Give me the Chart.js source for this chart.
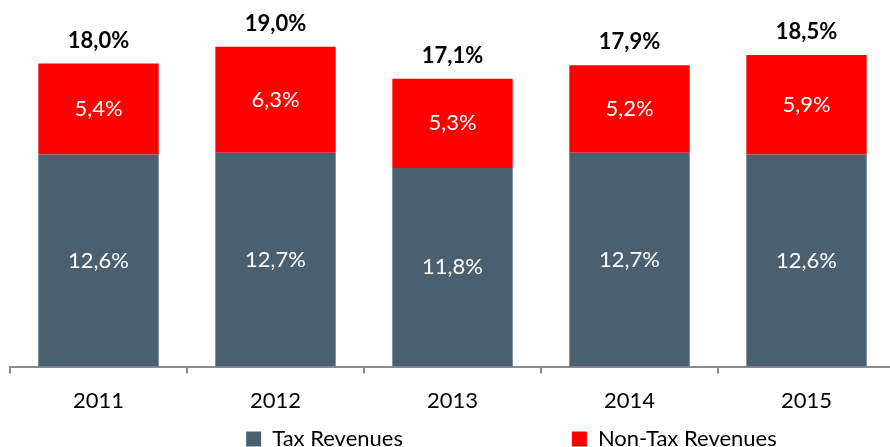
<!DOCTYPE html>
<html>
<head>
<meta charset="utf-8">
<script src="https://cdn.jsdelivr.net/npm/chart.js@4/dist/chart.umd.min.js"></script>
<style>
  html, body { margin: 0; padding: 0; background: #fff; overflow: hidden; }
  #wrap { width: 895px; height: 447px; overflow: hidden; }
</style>
</head>
<body>
<div id="wrap"><canvas id="revChart" width="895" height="457"></canvas></div>
<script>
// data (% of GDP)
var years = ['2011', '2012', '2013', '2014', '2015'];
var taxRevenues = [12.6, 12.7, 11.8, 12.7, 12.6];
var nonTaxRevenues = [5.4, 6.3, 5.3, 5.2, 5.9];
var totals = [18.0, 19.0, 17.1, 17.9, 18.5];
var seriesNames = ['Tax Revenues', 'Non-Tax Revenues'];

var FONT = 'Lato, "Open Sans", sans-serif';

function fmt(v) {
  return v.toFixed(1).replace('.', ',') + '%';
}

// trailing blanks push the legend items to where they sit in the original
function pad(s, n) {
  return s + new Array(n + 1).join(' ');
}

// writes the values inside the bars and the totals on top
var valueLabels = {
  id: 'valueLabels',
  afterDatasetsDraw: function(chart) {
    var ctx = chart.ctx;
    ctx.save();
    ctx.textAlign = 'center';
    ctx.textBaseline = 'middle';
    chart.data.datasets.forEach(function(ds, i) {
      var meta = chart.getDatasetMeta(i);
      meta.data.forEach(function(bar, j) {
        var mid = (bar.y + bar.base) / 2;
        ctx.fillStyle = '#ffffff';
        ctx.font = '22px ' + FONT;
        ctx.fillText(fmt(ds.data[j]), bar.x, mid);
      });
    });
    var top = chart.getDatasetMeta(1);
    top.data.forEach(function(bar, j) {
      ctx.fillStyle = '#000000';
      ctx.font = 'bold 22px ' + FONT;
      ctx.fillText(fmt(totals[j]), bar.x, bar.y - 23);
    });
    ctx.restore();
  }
};

var ctx = document.getElementById('revChart').getContext('2d');
var revChart = new Chart(ctx, {
  type: 'bar',
  data: {
    labels: years,
    datasets: [{
      label: pad(seriesNames[0], 30),
      data: taxRevenues,
      backgroundColor: '#4a6070',
      barPercentage: 0.68,
      categoryPercentage: 1.0
    }, {
      label: pad(seriesNames[1], 21),
      data: nonTaxRevenues,
      backgroundColor: '#ff0000',
      barPercentage: 0.68,
      categoryPercentage: 1.0
    }]
  },
  options: {
    responsive: false,
    animation: false,
    layout: { padding: { top: 13, left: 10, right: 0, bottom: -3 } },
    plugins: {
      legend: {
        position: 'bottom',
        align: 'end',
        labels: {
          boxWidth: 15,
          boxHeight: 15,
          padding: 0,
          color: '#000',
          font: { family: FONT, size: 22 }
        }
      },
      tooltip: { enabled: false }
    },
    scales: {
      x: {
        stacked: true,
        grid: {
          drawOnChartArea: false,
          drawTicks: true,
          tickLength: 7,
          color: '#8c8c8c',
          lineWidth: 2
        },
        border: { display: true, color: '#8c8c8c', width: 2 },
        ticks: {
          color: '#000',
          padding: 14,
          font: { family: FONT, size: 22 }
        }
      },
      y: {
        stacked: true,
        display: false,
        min: 0,
        max: 21
      }
    }
  },
  plugins: [valueLabels]
});
</script>
</body>
</html>
